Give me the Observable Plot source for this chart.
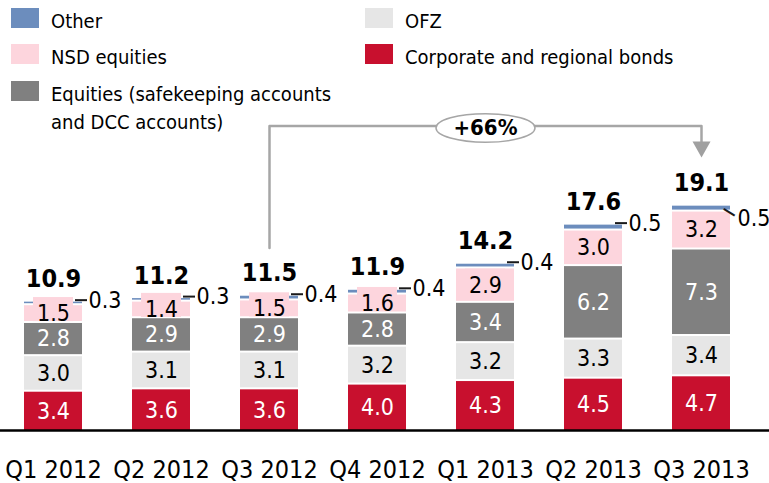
<!DOCTYPE html>
<html>
<head>
<meta charset="utf-8">
<script src="https://cdn.jsdelivr.net/npm/d3@7"></script>
<script src="https://cdn.jsdelivr.net/npm/@observablehq/plot@0.6"></script>
<style>
  html, body { margin: 0; padding: 0; background: #fff; }
  #wrap { position: relative; width: 769px; height: 483px; overflow: hidden;
          font-family: "DejaVu Sans Condensed", "DejaVu Sans", sans-serif; font-stretch: condensed; }
  .lg-item { position: absolute; font-size: 20px; line-height: 28px; color: #000; }
  .lg-sw { position: absolute; width: 28px; height: 20px; }
</style>
</head>
<body>
<div id="wrap"></div>
<script>
// ---- data ----
const quarters = ["Q1 2012", "Q2 2012", "Q3 2012", "Q4 2012", "Q1 2013", "Q2 2013", "Q3 2013"];
const corporate = [3.4, 3.6, 3.6, 4.0, 4.3, 4.5, 4.7];
const ofz       = [3.0, 3.1, 3.1, 3.2, 3.2, 3.3, 3.4];
const equities  = [2.8, 2.9, 2.9, 2.8, 3.4, 6.2, 7.3];
const nsd       = [1.5, 1.4, 1.5, 1.6, 2.9, 3.0, 3.2];
const other     = [0.3, 0.3, 0.4, 0.4, 0.4, 0.5, 0.5];
const totals    = [10.9, 11.2, 11.5, 11.9, 14.2, 17.6, 19.1];
const seriesNames = ["Corporate and regional bonds", "OFZ", "Equities (safekeeping accounts and DCC accounts)", "NSD equities", "Other"];
const seriesColors = ["#c8102e", "#e6e6e6", "#808080", "#fdd5dd", "#6c8dbd"];
const legendOrder = ["Other", "OFZ", "NSD equities", "Corporate and regional bonds", "Equities (safekeeping accounts and DCC accounts)"];
const legendLabels = ["Other", "OFZ", "NSD equities", "Corporate and regional bonds", "Equities (safekeeping accounts<br>and DCC accounts)"];
const growthLabel = "+66%";
const growthFrom = 2, growthTo = 6;

// ---- build table (stacked manually so labels share positions with bars) ----
const seriesValues = [corporate, ofz, equities, nsd, other];
const rows = [];
quarters.forEach((q, i) => {
  let base = 0;
  seriesNames.forEach((s, si) => {
    const v = seriesValues[si][i];
    rows.push({q, series: s, si, value: v, y1: base, y2: base + v, mid: base + v / 2, i});
    base += v;
  });
});
const tops = quarters.map((_, i) => seriesValues.reduce((a, arr) => a + arr[i], 0));
const pinkBoxes = rows.filter(d => d.si === 3).map(d => ({q: d.q, y1: d.mid - 0.76, y2: d.mid + 1.27}));
const otherRows = quarters.map((q, i) => ({q, v: tops[i], label: other[i].toFixed(1), i}));
const totalRows = quarters.map((q, i) => ({q, v: tops[i], label: totals[i].toFixed(1)}));

const maxTop = d3.max(tops);
const level = maxTop + 6.6;
const arrowV = maxTop + 4.84;
const bracket = [
  {q: quarters[growthFrom], v: tops[growthFrom] + 3.9},
  {q: quarters[growthFrom], v: level},
  {q: quarters[growthTo], v: level},
  {q: quarters[growthTo], v: arrowV}
];
const midQ = quarters[(growthFrom + growthTo) / 2];

const ellipseSymbol = {draw(ctx) {
  const rx = 49.5, ry = 14.3, k = 0.5523;
  ctx.moveTo(-rx, 0);
  ctx.bezierCurveTo(-rx, -ry * k, -rx * k, -ry, 0, -ry);
  ctx.bezierCurveTo(rx * k, -ry, rx, -ry * k, rx, 0);
  ctx.bezierCurveTo(rx, ry * k, rx * k, ry, 0, ry);
  ctx.bezierCurveTo(-rx * k, ry, -rx, ry * k, -rx, 0);
  ctx.closePath();
}};
const arrowSymbol = {draw(ctx) {
  ctx.moveTo(-9, -5.3); ctx.lineTo(9, -5.3); ctx.lineTo(0, 10.7); ctx.closePath();
}};

const last = quarters.length - 1;
const whiteLabels = rows.filter(d => d.si === 0 || d.si === 2);
const blackLabels = rows.filter(d => d.si === 1 || d.si === 3);

const chart = Plot.plot({
  width: 769,
  height: 483,
  marginTop: 0,
  marginBottom: 53,
  marginLeft: 0,
  marginRight: 0,
  style: {
    fontFamily: '"DejaVu Sans Condensed", "DejaVu Sans", sans-serif',
    fontStretch: "condensed",
    fontSize: "25px",
    color: "#000",
    background: "transparent",
    overflow: "visible"
  },
  x: {domain: quarters, range: [-2, 756], paddingInner: 0.464, paddingOuter: 0.232, tickSize: 0, tickPadding: 30, label: null},
  y: {domain: [0, 430 / 11.85], axis: null},
  color: {domain: seriesNames, range: seriesColors},
  marks: [
    Plot.barY(rows, {x: "q", y1: "y1", y2: "y2", fill: "series", insetTop: 2}),
    Plot.barY(pinkBoxes, {x: "q", y1: "y1", y2: "y2", fill: seriesColors[3], insetLeft: 9, insetRight: 9}),
    Plot.text(whiteLabels, {x: "q", y: "mid", text: d => d.value.toFixed(1), fill: "white", fontSize: 23, dy: 1}),
    Plot.text(blackLabels, {x: "q", y: "mid", text: d => d.value.toFixed(1), fill: "black", fontSize: 23, dy: 1}),
    Plot.ruleY([0], {stroke: "black", strokeWidth: 2.5}),
    // leader lines for "Other"
    Plot.tickY(otherRows.filter(d => d.i !== last), {x: "q", y: "v", stroke: "#1a1a1a", strokeWidth: 2, dx: 26, insetLeft: 25, insetRight: 21}),
    Plot.text(otherRows.filter(d => d.i === last), {x: "q", y: "v", text: () => "—", fontFamily: "DejaVu Sans", fontWeight: "bold", fontSize: 16, rotate: 31.6, dx: 28, dy: 7.5, fill: "#1a1a1a"}),
    Plot.text(otherRows.filter(d => d.i !== last), {x: "q", y: "v", text: "label", textAnchor: "start", fontSize: 23, dx: 35, fill: "black"}),
    Plot.text(otherRows.filter(d => d.i === last), {x: "q", y: "v", text: "label", textAnchor: "start", fontSize: 23, dx: 36, dy: 14, fill: "black"}),
    // totals
    Plot.text(totalRows, {x: "q", y: "v", text: "label", fontWeight: "bold", fontSize: 25, lineAnchor: "bottom", dy: -13, fill: "black"}),
    // growth annotation
    Plot.line(bracket, {x: "q", y: "v", stroke: "#a6a6a6", strokeWidth: 2.5, curve: "linear"}),
    Plot.dot([{q: quarters[growthTo], v: arrowV}], {x: "q", y: "v", symbol: arrowSymbol, fill: "#a0a0a0", stroke: "none"}),
    Plot.dot([{q: midQ, v: level}], {x: "q", y: "v", symbol: ellipseSymbol, fill: "white", stroke: "#a6a6a6", strokeWidth: 1.5, dy: 2}),
    Plot.text([{q: midQ, v: level}], {x: "q", y: "v", text: () => growthLabel, fontWeight: "bold", fontSize: 22, dy: 2, fill: "black"})
  ]
});

const wrap = document.getElementById("wrap");
wrap.appendChild(chart);

// ---- legend (HTML, overlaid) ----
const colX = [11, 365];
const rowTop = [8, 44, 81];
legendOrder.forEach((name, k) => {
  const col = k < 4 ? k % 2 : 0;
  const row = k < 4 ? Math.floor(k / 2) : 2;
  const color = seriesColors[seriesNames.indexOf(name)];
  const sw = document.createElement("div");
  sw.className = "lg-sw";
  sw.style.left = colX[col] + "px";
  sw.style.top = rowTop[row] + "px";
  sw.style.background = color;
  wrap.appendChild(sw);
  const tx = document.createElement("div");
  tx.className = "lg-item";
  tx.style.left = (colX[col] + 40) + "px";
  tx.style.top = (rowTop[row] - 1) + "px";
  tx.innerHTML = legendLabels[k];
  wrap.appendChild(tx);
});
</script>
</body>
</html>
